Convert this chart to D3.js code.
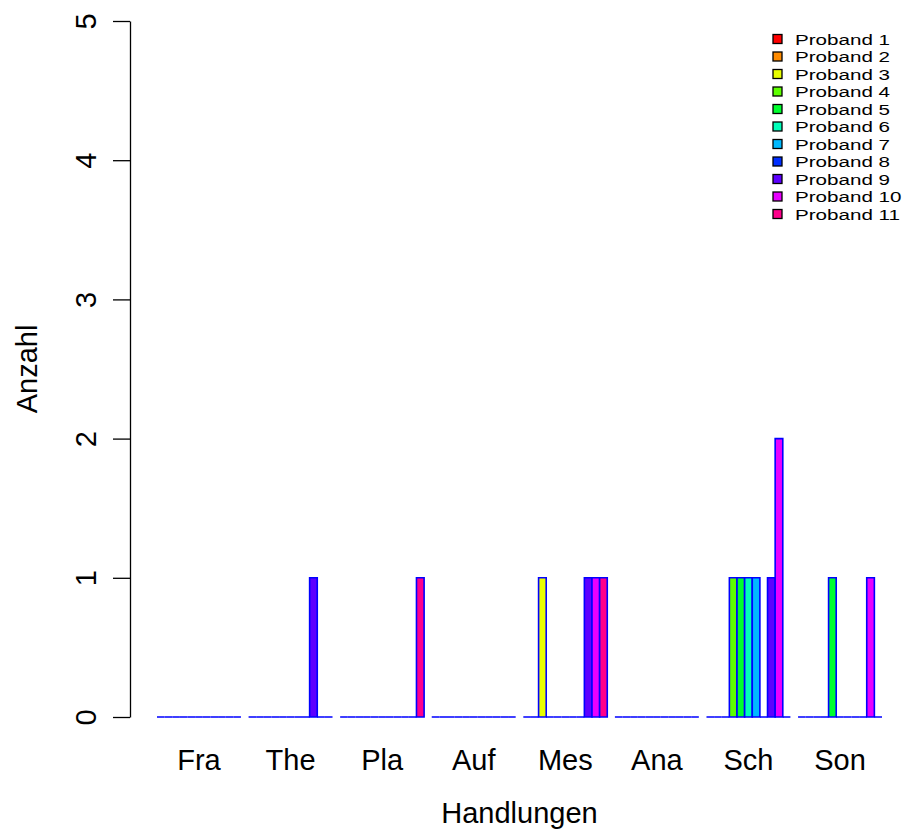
<!DOCTYPE html>
<html>
<head>
<meta charset="utf-8">
<script src="https://cdn.jsdelivr.net/npm/d3@7"></script>
<style>
  html, body { margin: 0; padding: 0; background: #fff; }
  svg { display: block; font-family: "Liberation Sans", Arial, sans-serif; }
</style>
</head>
<body>
<svg id="chart" width="907" height="839"></svg>
<script>
// Actions per category, one series per participant
const categories = ["Fra", "The", "Pla", "Auf", "Mes", "Ana", "Sch", "Son"];
const seriesNames = ["Proband 1", "Proband 2", "Proband 3", "Proband 4", "Proband 5", "Proband 6",
                     "Proband 7", "Proband 8", "Proband 9", "Proband 10", "Proband 11"];
const proband1  = [0, 0, 0, 0, 0, 0, 0, 0];
const proband2  = [0, 0, 0, 0, 0, 0, 0, 0];
const proband3  = [0, 0, 0, 0, 1, 0, 0, 0];
const proband4  = [0, 0, 0, 0, 0, 0, 1, 0];
const proband5  = [0, 0, 0, 0, 0, 0, 1, 1];
const proband6  = [0, 0, 0, 0, 0, 0, 1, 0];
const proband7  = [0, 0, 0, 0, 0, 0, 1, 0];
const proband8  = [0, 0, 0, 0, 0, 0, 0, 0];
const proband9  = [0, 1, 0, 0, 1, 0, 1, 0];
const proband10 = [0, 0, 0, 0, 1, 0, 2, 1];
const proband11 = [0, 0, 1, 0, 1, 0, 0, 0];
const yTicks = [0, 1, 2, 3, 4, 5];
const colors = ["#FF0000", "#FF8B00", "#E8FF00", "#5DFF00", "#00FF2E", "#00FFB9",
                "#00B9FF", "#002EFF", "#5D00FF", "#E800FF", "#FF008B"];

const series = [proband1, proband2, proband3, proband4, proband5, proband6,
                proband7, proband8, proband9, proband10, proband11];

const svg = d3.select("#chart");
const nS = series.length, nC = categories.length;

// Bar slots: each group of nS bars is preceded by a gap of one bar width
const slotStart = (c, s) => 1 + c * (nS + 1) + s;
const xMin = 1, xMax = nC * (nS + 1);
const pad = 0.04 * (xMax - xMin);
const x = d3.scaleLinear().domain([xMin - pad, xMax + pad]).range([128, 911]);
const y = d3.scaleLinear().domain([0, 5]).range([717, 21]);

// Bars (drawn as closed paths so zero-height bars still show their outline)
const bars = [];
categories.forEach((cat, c) => {
  series.forEach((vals, s) => {
    bars.push({ c, s, v: vals[c] });
  });
});
svg.append("g").selectAll("path").data(bars).join("path")
  .attr("d", d => {
    const x0 = x(slotStart(d.c, d.s)), x1 = x(slotStart(d.c, d.s) + 1);
    const y0 = y(0), y1 = y(d.v);
    return `M${x0},${y0}H${x1}V${y1}H${x0}Z`;
  })
  .attr("fill", d => colors[d.s])
  .attr("stroke", "#0000FF")
  .attr("stroke-width", 1.6);

// Y axis
const yAxis = svg.append("g").attr("transform", `translate(${x(xMin - pad) + 2},0)`)
  .call(d3.axisLeft(y).tickValues(yTicks).tickFormat(d3.format("d"))
    .tickSize(17).tickSizeOuter(0).tickPadding(0));
yAxis.select(".domain").attr("stroke", "#000").attr("stroke-width", 1.3);
yAxis.selectAll(".tick line").attr("stroke", "#000").attr("stroke-width", 1.3);
yAxis.selectAll(".tick text")
  .attr("x", null).attr("dy", null)
  .attr("transform", "translate(-34,0) rotate(-90)")
  .attr("text-anchor", "middle")
  .attr("font-size", 29)
  .attr("fill", "#000");

// Category labels under each group
svg.append("g").selectAll("text").data(categories).join("text")
  .attr("x", (d, c) => x(slotStart(c, 0) + nS / 2))
  .attr("y", 770)
  .attr("text-anchor", "middle")
  .attr("font-size", 29)
  .attr("fill", "#000")
  .text(d => d);

// Axis titles
svg.append("text")
  .attr("x", (x(xMin - pad) + x(xMax + pad)) / 2)
  .attr("y", 823)
  .attr("text-anchor", "middle")
  .attr("font-size", 29)
  .attr("fill", "#000")
  .text("Handlungen");

svg.append("text")
  .attr("transform", `translate(37,${(y(0) + y(5)) / 2}) rotate(-90)`)
  .attr("text-anchor", "middle")
  .attr("font-size", 29)
  .attr("fill", "#000")
  .text("Anzahl");

// Legend
const legend = svg.append("g").selectAll("g").data(seriesNames).join("g")
  .attr("transform", (d, i) => `translate(773,${39 + i * 17.5})`);
legend.append("rect")
  .attr("x", 0).attr("y", -4.5).attr("width", 9).attr("height", 9)
  .attr("fill", (d, i) => colors[i])
  .attr("stroke", "#000").attr("stroke-width", 1.3);
legend.append("text")
  .attr("transform", "translate(22,0) scale(1.33,1)")
  .attr("dy", "0.36em")
  .attr("font-size", 15.5)
  .attr("fill", "#000")
  .text(d => d);
</script>
</body>
</html>
